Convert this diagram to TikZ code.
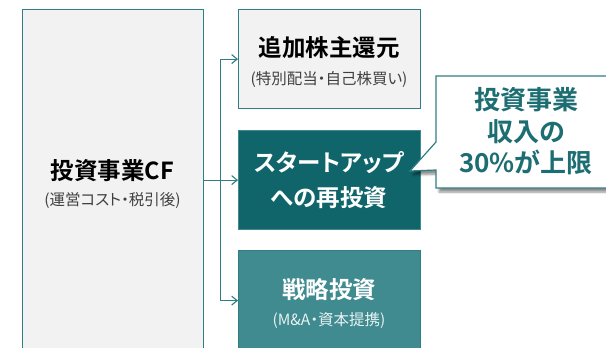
\documentclass[tikz,border=0pt]{standalone}
\usepackage{fontspec}
\setmainfont{Noto Sans CJK JP}[BoldFont={Noto Sans CJK JP Bold}, RawFeature=+palt]
\usetikzlibrary{arrows.meta,shadows.blur}
\definecolor{tealline}{HTML}{2F7E83}
\definecolor{tealdark}{HTML}{0F6569}
\definecolor{tealmid}{HTML}{3F8B90}
\definecolor{lightfill}{HTML}{F2F2F2}
\definecolor{subgray}{HTML}{404040}
\definecolor{calltext}{HTML}{1D6E73}
\tikzset{
  x=1pt,y=-1pt,
  boxbase/.style={draw=tealline, line width=1.2pt, inner sep=0pt, anchor=north west},
  lightbox/.style={boxbase, fill=lightfill, minimum width=181pt},
  darkbox/.style={boxbase, fill=tealdark, draw=tealmid, minimum width=182pt},
  midbox/.style={boxbase, fill=tealmid, minimum width=182pt},
  titletxt/.style={font=\fontsize{23.5}{28}\selectfont\bfseries, inner sep=0pt},
  subtxt/.style={font=\fontsize{15.5}{18}\selectfont, inner sep=0pt},
  conn/.style={draw=tealline, line width=1.1pt, -{Straight Barb[length=5.5pt,width=9pt,line width=1.1pt]}},
}
\begin{document}
\begin{tikzpicture}
\useasboundingbox (0,0) rectangle (606,348);
% boxes
\node[lightbox, minimum height=341pt] (cf) at (22,9) {};
\node[lightbox, minimum width=182pt, minimum height=99pt] (b1) at (238,9) {};
\node[darkbox, minimum height=99pt] (b2) at (238,130) {};
\node[midbox, minimum height=100pt] (b3) at (238,250) {};
% texts
\node[titletxt, text=black] (cft) at (112.5,171) {投資事業CF};
\node[subtxt, text=subgray] (cfs) at (112.5,200) {(運営コスト・税引後)};
\node[titletxt, text=black] (b1t) at (329,48) {追加株主還元};
\node[subtxt, text=subgray] (b1s) at (329,79) {(特別配当・自己株買い)};
\node[titletxt, text=white] (b2t) at (329,163) {スタートアップ};
\node[titletxt, text=white] (b2s) at (329,198) {への再投資};
\node[titletxt, text=white] (b3t) at (329,290) {戦略投資};
\node[subtxt, text=white!88!tealmid] (b3s) at (329,320) {(M\&A・資本提携)};
% connectors
\coordinate (j) at (220.5,179.5);
\draw[conn] (cf.east |- b2.west) -- (b2.west);
\draw[conn] (j) |- (b1.west);
\draw[conn] (j) |- (b3.west);
% callout
\path[draw=tealline, line width=1.2pt, fill=white,
      blur shadow={shadow xshift=3pt, shadow yshift=-4pt, shadow blur steps=6, shadow opacity=45}]
  (436,76) -- (620,76) -- (620,188) -- (436,188) -- (436,170) -- (410,171) -- (436,142) -- cycle;
\node[font=\fontsize{26}{31.5}\selectfont\bfseries, text=calltext, align=center, inner sep=0pt] (call) at (526,131.5)
  {投資事業\\収入の\\30\%が上限};
\end{tikzpicture}
\end{document}
